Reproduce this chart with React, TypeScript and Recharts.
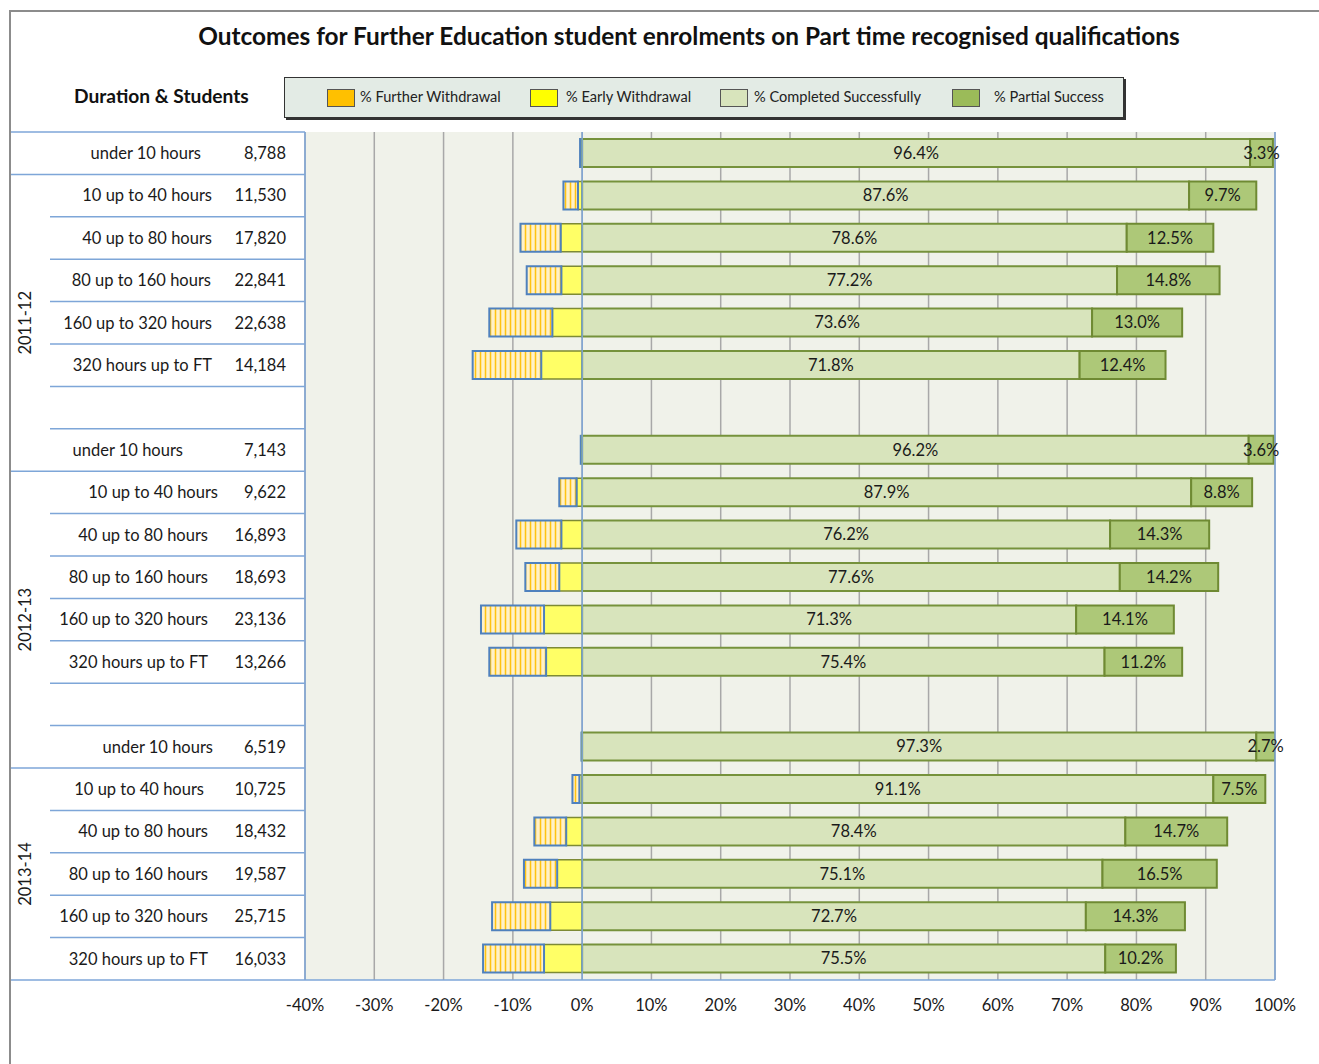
import React from "react";
import {
  BarChart,
  Bar,
  XAxis,
  YAxis,
  CartesianGrid,
  ReferenceLine,
  LabelList,
} from "recharts";

// categories
const years = ["2011-12", "2012-13", "2013-14"];
const durations = [
  "under 10 hours",
  "10 up to 40 hours",
  "40 up to 80 hours",
  "80 up to 160 hours",
  "160 up to 320 hours",
  "320 hours up to FT",
];

// student counts per duration, one list per year
const students2011 = [8788, 11530, 17820, 22841, 22638, 14184];
const students2012 = [7143, 9622, 16893, 18693, 23136, 13266];
const students2013 = [6519, 10725, 18432, 19587, 25715, 16033];

// % completed successfully
const completed2011 = [96.4, 87.6, 78.6, 77.2, 73.6, 71.8];
const completed2012 = [96.2, 87.9, 76.2, 77.6, 71.3, 75.4];
const completed2013 = [97.3, 91.1, 78.4, 75.1, 72.7, 75.5];

// % partial success
const partial2011 = [3.3, 9.7, 12.5, 14.8, 13.0, 12.4];
const partial2012 = [3.6, 8.8, 14.3, 14.2, 14.1, 11.2];
const partial2013 = [2.7, 7.5, 14.7, 16.5, 14.3, 10.2];

// % early withdrawal (drawn left of zero)
const early2011 = [0.1, 0.6, 3.1, 3.0, 4.3, 5.9];
const early2012 = [0.1, 0.8, 3.0, 3.3, 5.5, 5.2];
const early2013 = [0.05, 0.4, 2.3, 3.6, 4.6, 5.5];

// % further withdrawal (drawn left of early withdrawal)
const further2011 = [0.2, 2.1, 5.8, 5.0, 9.1, 9.9];
const further2012 = [0.1, 2.5, 6.5, 4.9, 9.1, 8.2];
const further2013 = [0.05, 1.0, 4.6, 4.8, 8.4, 8.8];

const xTicks = [-40, -30, -20, -10, 0, 10, 20, 30, 40, 50, 60, 70, 80, 90, 100];

// layout only: right edge of each row label in the side table
const labelRight = [
  [201, 212, 212, 211, 212, 212],
  [183, 218, 208, 208, 208, 208],
  [213, 204, 208, 208, 208, 208],
];

const FONT = "Lato, 'Open Sans', sans-serif";
const BLUE = "#7ea6d8";
const ROW_H = 42.4;

type Row = {
  key: string;
  group: number;
  idx: number;
  pos: number;
  students?: number;
  early?: number;
  further?: number;
  completed?: number;
  partial?: number;
};

const yearSets = [
  [students2011, completed2011, partial2011, early2011, further2011],
  [students2012, completed2012, partial2012, early2012, further2012],
  [students2013, completed2013, partial2013, early2013, further2013],
];

const rows: Row[] = [];
yearSets.forEach(([st, co, pa, ea, fu], g) => {
  durations.forEach((d, i) => {
    rows.push({
      key: `${years[g]}|${d}`,
      group: g,
      idx: i,
      pos: rows.length,
      students: st[i],
      completed: co[i],
      partial: pa[i],
      early: -ea[i],
      further: -fu[i],
    });
  });
  if (g < years.length - 1) rows.push({ key: `gap${g}`, group: g, idx: -1, pos: rows.length });
});

const rowByKey: Record<string, Row> = {};
rows.forEach((r) => (rowByKey[r.key] = r));

const pct = (v: any) =>
  v === undefined || v === null || Number.isNaN(v) ? "" : `${Number(v).toFixed(1)}%`;

function RowTick(props: any) {
  const { y, payload } = props;
  const row = rowByKey[payload.value];
  if (!row) return null;
  const top = y - ROW_H / 2;
  const bottom = y + ROW_H / 2;
  const lastRow = row.pos === rows.length - 1;
  const fullBottom = row.idx === 0 || lastRow;
  // year band runs from the row after "under 10 hours" down to the next full line
  const span = row.group < 2 ? 7 : 5;
  return (
    <g>
      {row.pos === 0 && (
        <line x1={11} x2={305} y1={top} y2={top} stroke={BLUE} strokeWidth={1.5} />
      )}
      <line
        x1={fullBottom ? 11 : 50}
        x2={305}
        y1={bottom}
        y2={bottom}
        stroke={BLUE}
        strokeWidth={1.5}
      />
      {row.idx >= 0 && (
        <>
          <text
            x={labelRight[row.group][row.idx]}
            y={y}
            dy="0.35em"
            textAnchor="end"
            fontFamily={FONT}
            fontSize={16.5}
            fill="#1a1a1a"
          >
            {durations[row.idx]}
          </text>
          <text
            x={286}
            y={y}
            dy="0.35em"
            textAnchor="end"
            fontFamily={FONT}
            fontSize={16.5}
            fill="#1a1a1a"
          >
            {row.students!.toLocaleString("en-GB")}
          </text>
        </>
      )}
      {row.idx === 1 && (
        <text
          x={0}
          y={0}
          transform={`translate(31, ${top + (span * ROW_H) / 2}) rotate(-90)`}
          textAnchor="middle"
          fontFamily={FONT}
          fontSize={16.5}
          fill="#1a1a1a"
        >
          {years[row.group]}
        </text>
      )}
    </g>
  );
}

const legendItems = [
  { label: "% Further Withdrawal", color: "#ffc000", swatch: 327, text: 360 },
  { label: "% Early Withdrawal", color: "#ffff00", swatch: 530, text: 566 },
  { label: "% Completed Successfully", color: "#d8e4bc", swatch: 720, text: 754 },
  { label: "% Partial Success", color: "#9bbb59", swatch: 952, text: 994 },
];

export default function App() {
  return (
    <div style={{ position: "relative", width: 1319, height: 1064, background: "#fff", overflow: "hidden" }}>
      <style>{"body{margin:0}"}</style>
      <div
        style={{
          position: "absolute",
          left: 9,
          top: 10,
          width: 1400,
          height: 1200,
          borderLeft: "2px solid #8c8c8c",
          borderTop: "2px solid #8c8c8c",
        }}
      />
      <div
        style={{
          position: "absolute",
          left: 0,
          width: 1378,
          top: 21,
          textAlign: "center",
          fontFamily: FONT,
          fontWeight: 700,
          fontSize: 24.4,
          color: "#111",
        }}
      >
        Outcomes for Further Education student enrolments on Part time recognised qualifications
      </div>
      <div
        style={{
          position: "absolute",
          left: 74,
          top: 84,
          fontFamily: FONT,
          fontWeight: 700,
          fontSize: 19.2,
          color: "#111",
        }}
      >
        Duration &amp; Students
      </div>
      <div
        style={{
          position: "absolute",
          left: 284,
          top: 77,
          width: 838,
          height: 39,
          background: "#e3ebe5",
          border: "1.5px solid #333",
          boxShadow: "2px 2px 0 #333",
        }}
      >
        {legendItems.map((it) => (
          <React.Fragment key={it.label}>
            <div
              style={{
                position: "absolute",
                left: it.swatch - 285,
                top: 11,
                width: 26,
                height: 16,
                background: it.color,
                border: "1px solid #555",
              }}
            />
            <div
              style={{
                position: "absolute",
                left: it.text - 285,
                top: 10,
                fontFamily: FONT,
                fontSize: 14.6,
                color: "#222",
                whiteSpace: "nowrap",
              }}
            >
              {it.label}
            </div>
          </React.Fragment>
        ))}
      </div>
      <div style={{ position: "absolute", left: 0, top: 0 }}>
        <BarChart
          width={1319}
          height={1064}
          data={rows}
          layout="vertical"
          stackOffset="sign"
          barSize={28}
          margin={{ top: 132, right: 44, bottom: 54, left: 11 }}
        >
          <defs>
            <pattern id="furtherStripes" width="5" height="4" patternUnits="userSpaceOnUse">
              <rect width="5" height="4" fill="#ffe497" />
              <rect x="0" width="0.9" height="4" fill="#ffc000" />
              <rect x="2.4" width="1.2" height="4" fill="#fffbe8" />
            </pattern>
          </defs>
          <CartesianGrid
            horizontal={false}
            stroke="#a8a8a8"
            strokeWidth={1.5}
            fill="#f0f2ea"
            fillOpacity={1}
          />
          <XAxis
            type="number"
            domain={[-40, 100]}
            ticks={xTicks}
            allowDataOverflow
            tickFormatter={(v) => `${v}%`}
            axisLine={{ stroke: BLUE, strokeWidth: 1.5 }}
            tickLine={false}
            tickMargin={13}
            tick={{ fontFamily: FONT, fontSize: 16.5, fill: "#1a1a1a" }}
          />
          <XAxis
            xAxisId="top"
            orientation="top"
            type="number"
            domain={[-40, 100]}
            ticks={Array.from({ length: 71 }, (_, i) => -40 + i * 2)}
            mirror
            height={0}
            tick={false}
            tickSize={4}
            axisLine={false}
            tickLine={{ stroke: "#9a9a9a" }}
          />
          <YAxis
            dataKey="key"
            type="category"
            width={294}
            interval={0}
            axisLine={{ stroke: BLUE, strokeWidth: 1.5 }}
            tickLine={false}
            tick={(p: any) => <RowTick {...p} />}
          />
          <Bar
            dataKey="early"
            stackId="s"
            fill="#ffff66"
            stroke="#7d8a35"
            strokeWidth={1.5}
            isAnimationActive={false}
          />
          <Bar
            dataKey="further"
            stackId="s"
            fill="url(#furtherStripes)"
            stroke="#4f81bd"
            strokeWidth={2}
            isAnimationActive={false}
          />
          <Bar
            dataKey="completed"
            stackId="s"
            fill="#d8e4bc"
            stroke="#76923c"
            strokeWidth={2}
            isAnimationActive={false}
          >
            <LabelList
              dataKey="completed"
              position="center"
              formatter={pct}
              fill="#1a1a1a"
              fontSize={16.5}
              fontFamily={FONT}
            />
          </Bar>
          <Bar
            dataKey="partial"
            stackId="s"
            fill="#adc878"
            stroke="#6f8a33"
            strokeWidth={2}
            isAnimationActive={false}
          >
            <LabelList
              dataKey="partial"
              position="center"
              formatter={pct}
              fill="#1a1a1a"
              fontSize={16.5}
              fontFamily={FONT}
            />
          </Bar>
          <ReferenceLine x={0} stroke={BLUE} strokeWidth={1.5} />
          <ReferenceLine x={100} stroke={BLUE} strokeWidth={1.5} />
        </BarChart>
      </div>
    </div>
  );
}
